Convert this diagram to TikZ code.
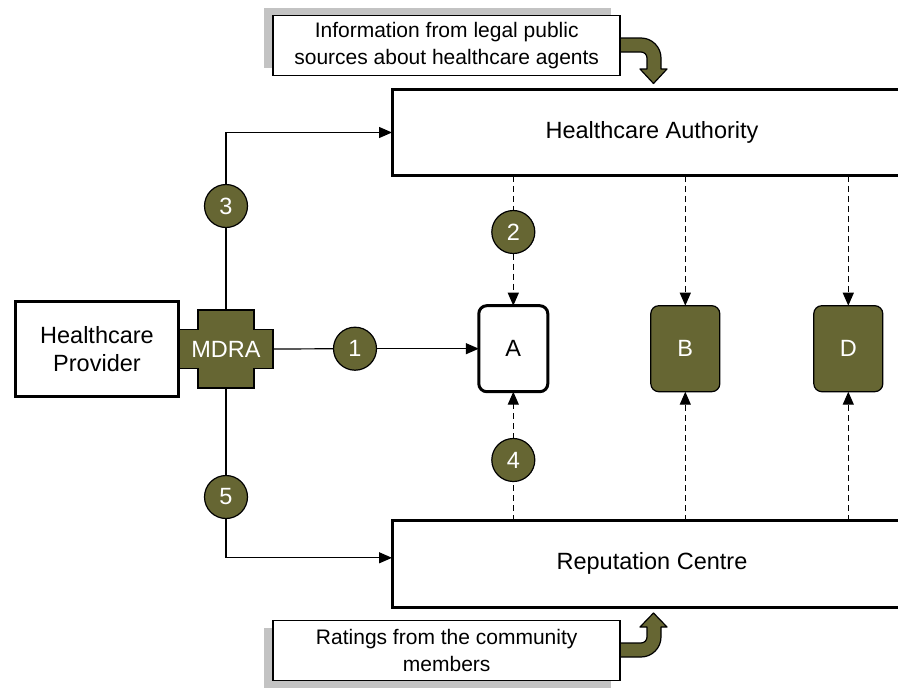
\documentclass[tikz,border=0pt]{standalone}
\usepackage{fontspec}
\setmainfont{Liberation Sans}
\usetikzlibrary{arrows.meta,shadows}
\definecolor{mdolive}{HTML}{666633}
\definecolor{shade}{HTML}{C3C3C3}

\begin{document}
\begin{tikzpicture}[x=1pt,y=-1pt,
  every node/.style={font=\fontsize{23.5}{28.5}\selectfont, align=center, inner sep=0pt, outer sep=0pt},
  thinline/.style={line width=1.2pt},
  bigbox/.style={draw, line width=3pt, minimum width=520pt, minimum height=86.5pt},
  provbox/.style={draw, line width=3pt, minimum width=163pt, minimum height=95pt},
  agent/.style={draw, rounded corners=8pt, minimum width=69pt, minimum height=86pt},
  agentself/.style={agent, line width=3pt, fill=white},
  agentother/.style={agent, line width=1.2pt, fill=mdolive, text=white},
  badge/.style={circle, draw, line width=1.2pt, fill=mdolive, text=white, minimum size=43pt},
  callout/.style={draw, line width=1.5pt, fill=white, minimum width=347pt, minimum height=60pt,
    font=\fontsize{21}{27}\selectfont},
  flow/.style={line width=1.2pt, -{Triangle[length=13pt,width=11pt]}},
  feed/.style={line width=1.2pt, dash pattern=on 6pt off 4pt},
  bentarrow/.style={fill=mdolive, draw, line width=1.2pt, line join=round}
]
\useasboundingbox (0,0) rectangle (898,688);

% MDRA cross behind its label
\filldraw[fill=mdolive, line width=1.2pt]
  (179,329.5) -- (198,329.5) -- (198,310) -- (254,310) -- (254,329.5) -- (273,329.5)
  -- (273,368.5) -- (254,368.5) -- (254,388) -- (198,388) -- (198,368.5) -- (179,368.5) -- cycle;

% main boxes
\node[provbox] (hp) at (97,349) {Healthcare\\Provider};
\node[minimum width=94pt, minimum height=78pt, text=white] (mdra) at (226,349) {MDRA};
\node[bigbox] (ha) at (652,132.5) {Healthcare Authority};
\node[bigbox] (rc) at (652,563.8) {Reputation Centre};

% agents
\node[agentself] (a) at (513.3,348.7) {A};
\node[agentother] (b) at (685.3,348.7) {B};
\node[agentother] (d) at (848.3,348.7) {D};

% numbered steps
\node[badge] (c1) at (355,348.7) {1};
\node[badge] (c2) at (513.3,232) {2};
\node[badge] (c3) at (226,206) {3};
\node[badge] (c4) at (513.3,460) {4};
\node[badge] (c5) at (226,497) {5};

% solid flows from the MDRA
\draw[thinline] (mdra.north) -- (c3);
\draw[flow] (c3) |- (ha.west);
\draw[thinline] (mdra.south) -- (c5);
\draw[flow] (c5) |- ([yshift=6pt]rc.west);
\draw[thinline] (mdra.east) -- (c1);
\draw[flow] (c1) -- (a.west);

% dashed feeds from the authority
\draw[feed] (a.north |- ha.south) -- (c2);
\draw[feed, flow] (c2) -- (a.north);
\draw[feed, flow] (b.north |- ha.south) -- (b.north);
\draw[feed, flow] (d.north |- ha.south) -- (d.north);

% dashed feeds from the reputation centre
\draw[feed] (a.south |- rc.north) -- (c4);
\draw[feed, flow] (c4) -- (a.south);
\draw[feed, flow] (b.south |- rc.north) -- (b.south);
\draw[feed, flow] (d.south |- rc.north) -- (d.south);

% bent arrows from the information sources
\filldraw[bentarrow] (620.7,38) -- (641,38) .. controls (652,38) and (661,47) .. (661,58)
  -- (661,69) -- (667,69) -- (653.5,83.5) -- (640,69) -- (647,69) -- (647,58)
  .. controls (647,54.7) and (644.3,52) .. (641,52) -- (620.7,52);
\filldraw[bentarrow] (620.7,657) -- (641,657) .. controls (652,657) and (661,648) .. (661,637)
  -- (661,627) -- (667,627) -- (653.5,613) -- (640,627) -- (647,627) -- (647,637)
  .. controls (647,640.3) and (644.3,643) .. (641,643) -- (620.7,643);

% information sources
\node[callout, drop shadow={shadow xshift=-9pt, shadow yshift=8pt, fill=shade, opacity=1}]
  (src) at (446.7,45.5) {Information from legal public\\sources about healthcare agents};
\node[callout, drop shadow={shadow xshift=-9pt, shadow yshift=-7pt, fill=shade, opacity=1}]
  (rate) at (446.7,650.5) {Ratings from the community\\members};
\end{tikzpicture}
\end{document}
